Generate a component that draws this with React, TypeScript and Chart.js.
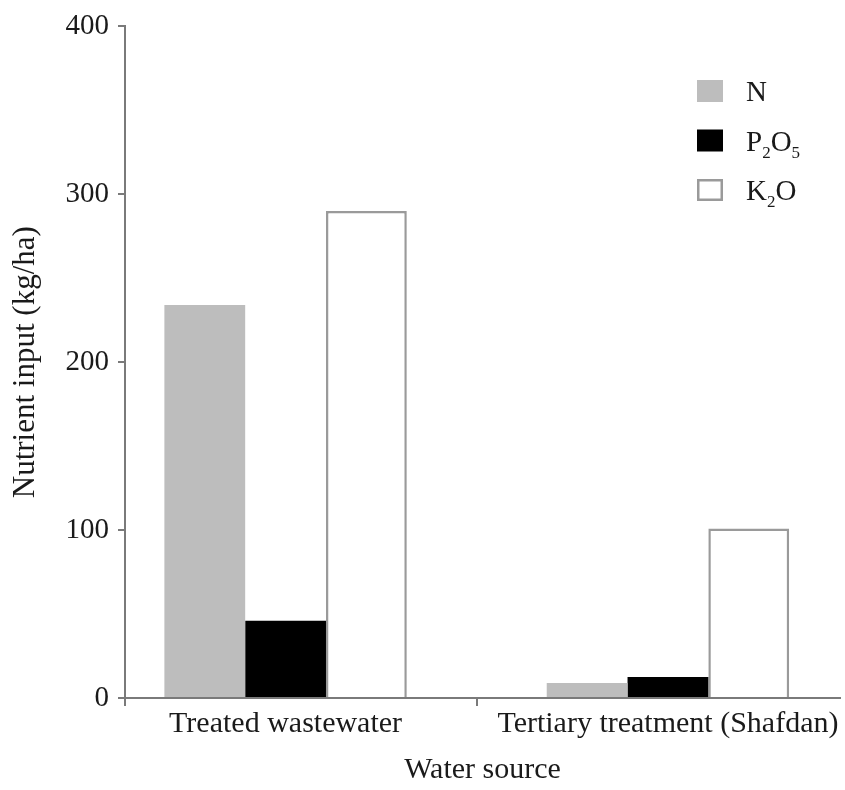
import React, { useEffect, useRef } from "react";
import { Chart, registerables } from "chart.js";

Chart.register(...registerables);

// ---- data ----
const categories = ["Treated wastewater", "Tertiary treatment (Shafdan)"];
const seriesNames = ["N", "P₂O₅", "K₂O"];
// legend text split into [text, isSubscript] parts
const legendParts: [string, boolean][][] = [
  [["N", false]],
  [["P", false], ["2", true], ["O", false], ["5", true]],
  [["K", false], ["2", true], ["O", false]],
];
const nValues = [234, 9];
const p2o5Values = [46, 12.5];
const k2oValues = [290, 101];
const yMin = 0;
const yMax = 400;
const yStep = 100;
// category axis range (in category units), as in the original figure
const xRangeStart = -0.42;
const xRangeSpan = 1.87;
const xTitle = "Water source";
const yTitle = "Nutrient input (kg/ha)";

const FONT = '"Liberation Serif", "Times New Roman", serif';
const AXIS = "#7a7a7a";
const TEXT = "#1a1a1a";

const legendPlugin = {
  id: "subLegend",
  afterDraw(chart: any) {
    const ctx = chart.ctx;
    // y axis line continues a little below the x axis
    const ca = chart.chartArea;
    ctx.save();
    ctx.strokeStyle = AXIS;
    ctx.lineWidth = 2;
    ctx.beginPath();
    ctx.moveTo(ca.left, ca.bottom);
    ctx.lineTo(ca.left, ca.bottom + 8);
    ctx.stroke();

    const x0 = 697;
    const yc0 = 91;
    const dy = 49.5;
    const bw = 26;
    const bh = 22;
    chart.data.datasets.forEach((ds: any, i: number) => {
      const yc = yc0 + i * dy;
      const bx = x0;
      const by = yc - bh / 2;
      ctx.fillStyle = ds.backgroundColor;
      ctx.fillRect(bx, by, bw, bh);
      if (ds.borderWidth) {
        ctx.lineWidth = 2.5;
        ctx.strokeStyle = ds.borderColor;
        ctx.strokeRect(bx + 1.25, by + 1.25, bw - 2.5, bh - 2.5);
      }
      let tx = 746;
      const base = yc + 10;
      ctx.fillStyle = TEXT;
      ctx.textBaseline = "alphabetic";
      ctx.textAlign = "left";
      legendParts[i].forEach(([t, sub]) => {
        ctx.font = sub ? `17px ${FONT}` : `29px ${FONT}`;
        ctx.fillText(t, tx, sub ? base + 7 : base);
        tx += ctx.measureText(t).width;
      });
    });
    ctx.restore();
  },
};

export default function App() {
  const ref = useRef<HTMLCanvasElement | null>(null);
  useEffect(() => {
    if (!ref.current) return;
    Chart.defaults.font.family = FONT;
    const chart = new Chart(ref.current, {
      type: "bar",
      data: {
        labels: categories,
        datasets: [
          {
            label: seriesNames[0],
            data: nValues,
            backgroundColor: "#bdbdbd",
            borderWidth: 0,
          },
          {
            label: seriesNames[1],
            data: p2o5Values,
            backgroundColor: "#000000",
            borderWidth: 0,
          },
          {
            label: seriesNames[2],
            data: k2oValues,
            backgroundColor: "#ffffff",
            borderColor: "#9a9a9a",
            borderWidth: 2.5,
          },
        ],
      },
      plugins: [legendPlugin],
      options: {
        animation: false,
        responsive: false,
        maintainAspectRatio: false,
        datasets: {
          bar: { barPercentage: 1, categoryPercentage: 0.634 },
        },
        layout: { padding: { top: 26, right: 5, bottom: 0, left: 0 } },
        plugins: {
          legend: { display: false },
          tooltip: { enabled: false },
        },
        scales: {
          x: {
            afterBuildTicks(scale: any) {
              scale._startValue = xRangeStart;
              scale._valueRange = xRangeSpan;
            },
            afterFit(scale: any) {
              scale.height = 92;
            },
            grid: {
              display: true,
              drawOnChartArea: false,
              drawTicks: true,
              tickLength: 8,
              offset: true,
              lineWidth: 2,
              color: (c: any) => (c.type === "tick" && c.index === 1 ? AXIS : "rgba(0,0,0,0)"),
            },
            border: { display: true, color: AXIS, width: 2 },
            ticks: {
              color: TEXT,
              font: { size: 30, family: FONT },
              padding: 0,
              maxRotation: 0,
            },
            title: {
              display: true,
              text: xTitle,
              color: TEXT,
              font: { size: 30, family: FONT },
              padding: { top: 0, bottom: 2 },
            },
          },
          y: {
            min: yMin,
            max: yMax,
            afterFit(scale: any) {
              scale.width = 125;
            },
            grid: {
              display: true,
              drawOnChartArea: false,
              drawTicks: true,
              tickLength: 7,
              lineWidth: 2,
              color: AXIS,
            },
            border: { display: true, color: AXIS, width: 2 },
            ticks: {
              stepSize: yStep,
              color: TEXT,
              font: { size: 29, family: FONT },
              padding: 9,
            },
            title: {
              display: true,
              text: yTitle,
              color: TEXT,
              font: { size: 31, family: FONT },
              padding: { top: 7, bottom: 0 },
            },
          },
        },
      },
    });
    return () => chart.destroy();
  }, []);
  return (
    <div style={{ position: "absolute", left: 0, top: 0, width: 845, height: 790, background: "#fff" }}>
      <canvas ref={ref} width={845} height={790} style={{ width: 845, height: 790, display: "block" }} />
    </div>
  );
}
